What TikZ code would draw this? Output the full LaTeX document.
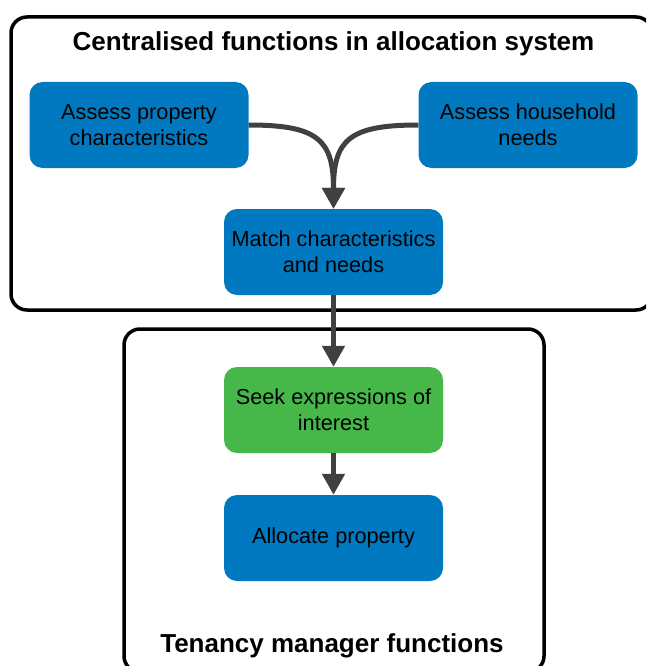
\documentclass[tikz,border=0pt]{standalone}
\usepackage{fontspec}
\setmainfont{Liberation Sans}
\usetikzlibrary{arrows.meta}
\definecolor{boxblue}{RGB}{0,121,193}
\definecolor{boxgreen}{RGB}{70,183,73}
\definecolor{arrowgray}{RGB}{64,64,64}
\tikzset{
  group/.style={draw=black, line width=3.5pt, rounded corners=16pt, rectangle, inner sep=0pt},
  stepbox/.style={rectangle, rounded corners=13pt, minimum width=219pt, minimum height=86pt, inner sep=0pt,
    align=center, font=\fontsize{21.7}{26}\selectfont, text=black},
  bluebox/.style={stepbox, fill=boxblue},
  greenbox/.style={stepbox, fill=boxgreen},
  grouptitle/.style={font=\bfseries\fontsize{26}{30}\selectfont, inner sep=0pt, anchor=base},
  flow/.style={draw=arrowgray, line width=5pt, -{Triangle[length=21pt,width=22pt]}}
}
\begin{document}
\begin{tikzpicture}[x=1pt,y=-1pt]
\useasboundingbox (0,0) rectangle (646,666);
\begin{scope}
\clip (0,0) rectangle (646,666);
% group containers
\node[group, minimum width=641pt, minimum height=293pt] (top) at (331.5,163.5) {};
\node[group, minimum width=420pt, minimum height=343pt] (bottom) at (334,500.5) {};
\end{scope}
\node[grouptitle] (ttop) at (333.5,51) {Centralised functions in allocation system};
\node[grouptitle] (tbot) at (332,652) {Tenancy manager functions};
% steps
\node[bluebox] (prop) at (139,125) {Assess property\\characteristics};
\node[bluebox] (hh) at (528,125) {Assess household\\needs};
\node[bluebox] (match) at (333.5,252) {Match characteristics\\and needs};
\node[greenbox] (seek) at (333.5,410) {Seek expressions of\\interest};
\node[bluebox] (alloc) at (333.5,538) {Allocate property};
% connectors
\draw[flow] (prop.east) .. controls (318,125) and (333.5,140) .. (match.north);
\draw[flow] (hh.west) .. controls (349,125) and (333.5,140) .. (match.north);
\draw[flow] (match.south) -- (seek.north);
\draw[flow] (seek.south) -- (alloc.north);
\end{tikzpicture}
\end{document}
